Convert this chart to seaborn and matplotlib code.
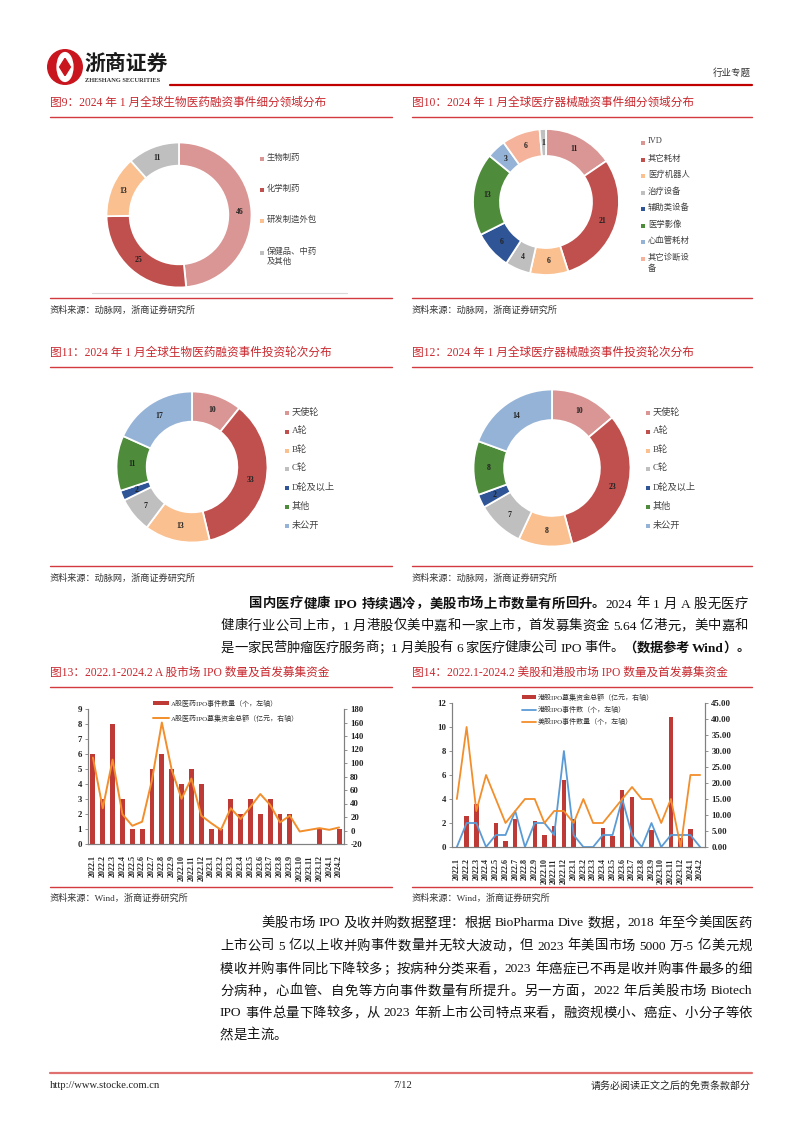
import numpy as np
import pandas as pd
import matplotlib
matplotlib.use('Agg')
import matplotlib.pyplot as plt
import seaborn as sns
from matplotlib.patches import Rectangle, Circle, Ellipse, Polygon
from matplotlib.lines import Line2D

# ---------------- data ----------------
bio_fields = ['生物制药', '化学制药', '研发制造外包', '保健品、中药\n及其他']
bio_field_counts = [46, 25, 13, 11]

device_fields = ['IVD', '其它耗材', '医疗机器人', '治疗设备', '辅助类设备', '医学影像', '心血管耗材', '其它诊断设\n备', '其他']
device_field_counts = [11, 21, 6, 4, 6, 13, 3, 6, 1]

rounds = ['天使轮', 'A轮', 'B轮', 'C轮', 'D轮及以上', '其他', '未公开']
bio_round_counts = [10, 33, 13, 7, 2, 11, 17]
device_round_counts = [10, 23, 8, 7, 2, 8, 14]

months = ['2022.1', '2022.2', '2022.3', '2022.4', '2022.5', '2022.6', '2022.7', '2022.8', '2022.9',
          '2022.10', '2022.11', '2022.12', '2023.1', '2023.2', '2023.3', '2023.4', '2023.5', '2023.6',
          '2023.7', '2023.8', '2023.9', '2023.10', '2023.11', '2023.12', '2024.1', '2024.2']
a_ipo_count = [6, 3, 8, 3, 1, 1, 5, 6, 5, 4, 5, 4, 1, 1, 3, 2, 3, 2, 3, 2, 2, 0, 0, 1, 0, 1]
a_ipo_funds = [108, 33, 105, 24, 7, 13, 75, 160, 90, 47, 77, 22, 11, 1, 33, 17, 35, 54, 38, 12, 22, -1.5, 1, 3.5, 1, 4.5]

hk_ipo_funds = [0, 9.7, 13.4, 0, 7.6, 1.9, 8.9, 0, 8.0, 3.9, 6.5, 21.0, 8.9, 0, 0, 6.0, 3.4, 17.9, 15.6, 0, 5.2, 0, 40.6, 2.7, 5.64, 0]
hk_ipo_count = [0, 2, 2, 0, 1, 1, 3, 0, 2, 2, 1, 8, 1, 0, 0, 1, 1, 4, 1, 0, 2, 0, 1, 1, 1, 0]
us_ipo_count = [4, 10, 3, 6, 4, 2, 3, 4, 4, 2, 3, 3, 2, 4, 2, 2, 3, 4, 5, 4, 4, 2, 4, 0, 6, 6]

# ---------------- style ----------------
sns.set_theme(style='white')
FAM = ['Liberation Serif', 'Noto Sans CJK SC', 'DejaVu Sans']
plt.rcParams['font.family'] = FAM
plt.rcParams['axes.unicode_minus'] = False

RED_T = '#C8282E'
RED_L = '#D23A3F'
C_PINK, C_RED, C_ORG, C_GRAY = '#D99694', '#C0504D', '#FAC090', '#BFBFBF'
C_DBLUE, C_GREEN, C_LBLUE, C_SALMON = '#2F5597', '#4E8B3A', '#95B3D7', '#F4B39A'
C_BAR = '#BE3A36'

W, H = 802, 1133
fig = plt.figure(figsize=(W / 100, H / 100), dpi=100)
fig.patch.set_facecolor('white')
renderer = fig.canvas.get_renderer()


def fx(x):
    return x / W


def fy(y):
    return 1 - y / H


def add_ax(x0, y0, x1, y1):
    return fig.add_axes([x0 / W, 1 - y1 / H, (x1 - x0) / W, (y1 - y0) / H])


def hline(x0, x1, y, color, lw):
    fig.add_artist(Line2D([fx(x0), fx(x1)], [fy(y), fy(y)], transform=fig.transFigure, color=color, lw=lw))


def txt(x, y, s, size, color='#222222', ha='left', va='center', weight='normal', **kw):
    return fig.text(fx(x), fy(y), s, fontsize=size, color=color, ha=ha, va=va, fontweight=weight, **kw)


# ---------------- justified paragraph helpers ----------------
def tokenize(segments):
    toks = []
    for s, w in segments:
        buf = ''
        for ch in s:
            if ch == ' ':
                if buf:
                    toks.append((buf, w)); buf = ''
                toks.append((' ', w))
            elif ord(ch) < 128:
                buf += ch
            else:
                if buf:
                    toks.append((buf, w)); buf = ''
                toks.append((ch, w))
        if buf:
            toks.append((buf, w))
    return toks


_cache = {}


def tok_width(tok, w, fs):
    key = (tok, w, fs)
    if key not in _cache:
        a = fig.text(0, 0, '国' + tok + '国', fontsize=fs, fontweight=w)
        b = fig.text(0, 0, '国国', fontsize=fs, fontweight=w)
        _cache[key] = a.get_window_extent(renderer).width - b.get_window_extent(renderer).width
        a.remove(); b.remove()
    return _cache[key]


def para_line(x0, x1, y, segments, fs=9.6, justify=True):
    toks = tokenize(segments)
    widths = [tok_width(t, w, fs) for t, w in toks]
    n = len(toks)
    extra = (x1 - x0 - sum(widths)) / (n - 1) if (justify and n > 1) else 0
    x = x0
    for (t, w), wd in zip(toks, widths):
        if t != ' ':
            fig.text(fx(x), fy(y + 4.5), t, fontsize=fs, fontweight=w, ha='left', va='baseline', color='#111111')
        x += wd + extra


# ---------------- header ----------------
lax = add_ax(47, 49, 83, 85)
lax.set_xlim(0, 1); lax.set_ylim(0, 1); lax.set_aspect('equal'); lax.axis('off')
lax.add_patch(Circle((0.5, 0.5), 0.48, color='#C9151E'))
lax.add_patch(Ellipse((0.5, 0.5), 0.44, 0.8, color='white'))
lax.add_patch(Polygon([[0.5, 0.74], [0.65, 0.5], [0.5, 0.26], [0.35, 0.5]], closed=True, color='#C9151E'))
txt(84, 65, '浙商证券', 15, color='#1a1a1a', weight='bold')
txt(85, 81, 'ZHESHANG SECURITIES', 4.6, color='#333333', weight='bold')
hline(170, 752, 84.5, '#C00000', 1.6)
txt(751, 73, '行业专题', 6.8, color='#333333', ha='right')

# ---------------- titles / sources ----------------
titles = [(50, 103, '图9：2024 年 1 月全球生物医药融资事件细分领域分布'),
          (412, 103, '图10：2024 年 1 月全球医疗器械融资事件细分领域分布'),
          (50, 353, '图11：2024 年 1 月全球生物医药融资事件投资轮次分布'),
          (412, 353, '图12：2024 年 1 月全球医疗器械融资事件投资轮次分布'),
          (50, 673, '图13：2022.1-2024.2 A 股市场 IPO 数量及首发募集资金'),
          (412, 673, '图14：2022.1-2024.2 美股和港股市场 IPO 数量及首发募集资金')]
for x, y, s in titles:
    txt(x, y, s, 8.4, color=RED_T)
for y in (117, 367, 687):
    hline(50, 392, y, RED_L, 1.0)
    hline(412, 752, y, RED_L, 1.0)

src1 = '资料来源：动脉网，浙商证券研究所'
src2 = '资料来源：Wind，浙商证券研究所'
hline(92, 347, 293, '#D9D9D9', 0.8)
for y, s in ((310, src1), (578, src1), (898, src2)):
    txt(50, y, s, 6.6, color='#333333')
    txt(412, y, s, 6.6, color='#333333')
for y in (298, 566, 887):
    hline(50, 392, y, RED_L, 1.0)
    hline(412, 752, y, RED_L, 1.0)


# ---------------- donuts ----------------
def donut(cx, cy, r, values, colors, width):
    rr = r * 1.03
    ax = add_ax(cx - rr, cy - rr, cx + rr, cy + rr)
    wedges, _ = ax.pie(values, colors=colors, startangle=90, counterclock=False, radius=1.0,
                       wedgeprops=dict(width=width, edgecolor='white', linewidth=1.3))
    ax.set_xlim(-1.03, 1.03); ax.set_ylim(-1.03, 1.03); ax.set_aspect('equal'); ax.axis('off')
    for w, v in zip(wedges, values):
        a = np.deg2rad((w.theta1 + w.theta2) / 2)
        rm = 1 - width / 2
        ax.text(rm * np.cos(a), rm * np.sin(a), str(v), ha='center', va='center',
                fontsize=5.6, fontweight='bold', color='#222222')


def legend_col(x, ys, labels, colors, size=6.3):
    for y, lab, c in zip(ys, labels, colors):
        fig.add_artist(Rectangle((fx(x - 2), fy(y + 2)), 4 / W, 4 / H, transform=fig.transFigure,
                                 color=c, lw=0))
        fig.text(fx(x + 5), fy(y - 5.5), lab, fontsize=size, color='#404040', ha='left', va='top',
                 linespacing=1.35)


pal_bio = [C_PINK, C_RED, C_ORG, C_GRAY]
donut(179, 215, 72.5, bio_field_counts, pal_bio, 0.32)
legend_col(262, [159, 190, 221, 253], bio_fields, pal_bio, 6.0)

pal_dev = [C_PINK, C_RED, C_ORG, C_GRAY, C_DBLUE, C_GREEN, C_LBLUE, C_SALMON, C_GRAY]
donut(546, 202, 73, device_field_counts, pal_dev, 0.37)
legend_col(643, [143, 160, 176, 193, 209, 226, 242, 259], device_fields[:8], pal_dev[:8], 6.0)

pal_round = [C_PINK, C_RED, C_ORG, C_GRAY, C_DBLUE, C_GREEN, C_LBLUE]
ly = [413, 432, 451, 469, 488, 507, 526]
donut(192, 467, 75.5, bio_round_counts, pal_round, 0.4)
legend_col(287, ly, rounds, pal_round, 6.6)
donut(552, 468, 78.5, device_round_counts, pal_round, 0.39)
legend_col(648, ly, rounds, pal_round, 6.6)

# ---------------- paragraph 1 ----------------
B, N = 'bold', 'normal'
para_line(249, 748, 603, [('国内医疗健康 IPO 持续遇冷，美股市场上市数量有所回升。', B), ('2024 年 1 月 A 股无医疗', N)])
para_line(221, 748, 625, [('健康行业公司上市，1 月港股仅美中嘉和一家上市，首发募集资金 5.64 亿港元，美中嘉和', N)])
para_line(221, 750, 647, [('是一家民营肿瘤医疗服务商；1 月美股有 6 家医疗健康公司 IPO 事件。', N), ('（数据参考 Wind）。', B)])


# ---------------- bar/line charts ----------------
def style_axes(ax, ax2):
    for a in (ax, ax2):
        a.spines['top'].set_visible(False)
        for s in ('left', 'right', 'bottom'):
            a.spines[s].set_color('#808080')
            a.spines[s].set_linewidth(0.8)
        a.set_xlabel(''); a.set_ylabel('')
        a.grid(False)
    ax.tick_params(axis='y', left=True, length=2.5, width=0.6, color='#808080', pad=2, labelsize=6.3)
    ax2.tick_params(axis='y', right=True, length=2.5, width=0.6, color='#808080', pad=2, labelsize=6.3)
    ax.tick_params(axis='x', bottom=False, pad=2, labelsize=5.8)
    ax.set_xticks(range(len(months)))
    ax.set_xticklabels(months, rotation=90, ha='center', va='top')
    for lab in ax.get_xticklabels() + ax.get_yticklabels() + ax2.get_yticklabels():
        lab.set_fontweight('bold')
        lab.set_color('#222222')
    ax.set_xlim(-0.5, len(months) - 0.5)


# Figure 13
df13 = pd.DataFrame({'month': months, 'count': a_ipo_count, 'funds': a_ipo_funds, 'pos': np.arange(len(months))})
ax13 = add_ax(88, 709, 344, 844)
sns.barplot(data=df13, x='month', y='count', order=months, color=C_BAR, saturation=1, width=0.5,
            linewidth=0, edgecolor=C_BAR, ax=ax13)
ax13.set_ylim(0, 9); ax13.set_yticks(range(0, 10))
ax13b = ax13.twinx()
sns.lineplot(data=df13, x='pos', y='funds', color='#F28E2B', lw=1.4, ax=ax13b)
ax13b.set_ylim(-20, 180); ax13b.set_yticks(range(-20, 181, 20))
style_axes(ax13, ax13b)

fig.add_artist(Rectangle((fx(153), fy(705)), 16 / W, 4 / H, transform=fig.transFigure, color=C_BAR, lw=0))
txt(171, 703, 'A股医药IPO事件数量（个，左轴）', 5.0, color='#333333')
hline(153, 169, 718, '#F28E2B', 1.4)
txt(171, 718, 'A股医药IPO募集资金总额（亿元，右轴）', 5.0, color='#333333')

# Figure 14
df14 = pd.DataFrame({'month': months, 'hk_funds': hk_ipo_funds, 'hk_count': hk_ipo_count,
                     'us_count': us_ipo_count, 'pos': np.arange(len(months))})
ax14 = add_ax(452, 703, 705, 847)
ax14b = ax14.twinx()
sns.barplot(data=df14, x='month', y='hk_funds', order=months, color=C_BAR, saturation=1, width=0.45,
            linewidth=0, edgecolor=C_BAR, ax=ax14b)
ax14b.set_ylim(0, 45); ax14b.set_yticks(np.arange(0, 46, 5))
ax14b.set_yticklabels([f'{v:.2f}' for v in np.arange(0, 46, 5)])
sns.lineplot(data=df14, x='pos', y='hk_count', color='#5B9BD5', lw=1.3, ax=ax14)
sns.lineplot(data=df14, x='pos', y='us_count', color='#F28E2B', lw=1.3, ax=ax14)
ax14.set_ylim(0, 12); ax14.set_yticks(range(0, 13, 2))
ax14.set_zorder(ax14b.get_zorder() + 1)
ax14.patch.set_visible(False)
style_axes(ax14, ax14b)

fig.add_artist(Rectangle((fx(522), fy(699)), 14 / W, 4 / H, transform=fig.transFigure, color=C_BAR, lw=0))
txt(538, 697, '港股IPO募集资金总额（亿元，右轴）', 5.0, color='#333333')
hline(522, 536, 709.5, '#5B9BD5', 1.3)
txt(538, 709.5, '港股IPO事件数（个，左轴）', 5.0, color='#333333')
hline(522, 536, 721.5, '#F28E2B', 1.3)
txt(538, 721.5, '美股IPO事件数量（个，左轴）', 5.0, color='#333333')

# ---------------- paragraph 2 ----------------
para_line(261, 752, 922, [('美股市场 IPO 及收并购数据整理：根据 BioPharma Dive 数据，2018 年至今美国医药', N)])
para_line(220, 752, 945, [('上市公司 5 亿以上收并购事件数量并无较大波动，但 2023 年美国市场 5000 万-5 亿美元规', N)])
para_line(220, 752, 968, [('模收并购事件同比下降较多；按病种分类来看，2023 年癌症已不再是收并购事件最多的细', N)])
para_line(220, 752, 990, [('分病种，心血管、自免等方向事件数量有所提升。另一方面，2022 年后美股市场 Biotech', N)])
para_line(220, 752, 1012, [('IPO 事件总量下降较多，从 2023 年新上市公司特点来看，融资规模小、癌症、小分子等依', N)])
para_line(220, 752, 1034, [('然是主流。', N)], justify=False)

# ---------------- footer ----------------
hline(50, 752, 1073, '#E07070', 1.6)
txt(50, 1086, 'http://www.stocke.com.cn', 7.6, color='#222222')
txt(403, 1086, '7/12', 7.6, color='#222222', ha='center')
txt(751, 1086, '请务必阅读正文之后的免责条款部分', 7.2, color='#222222', ha='right')

fig.savefig('out.png', dpi=100, facecolor='white')
